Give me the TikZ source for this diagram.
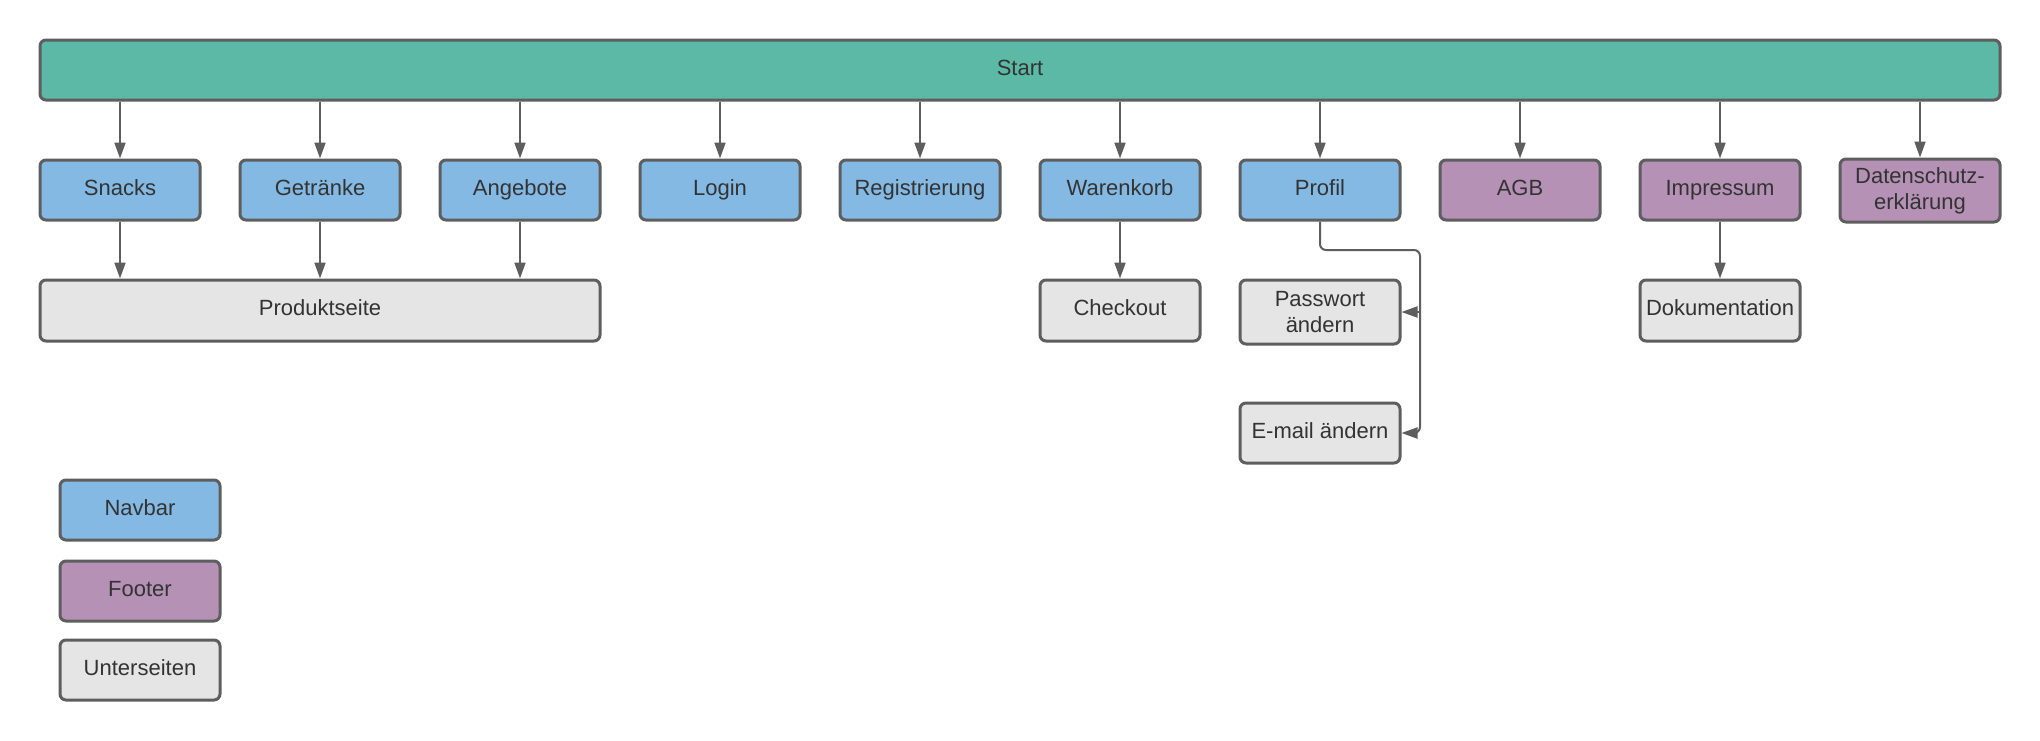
\documentclass[tikz,border=0pt]{standalone}
\usepackage{fontspec}
\setmainfont{Liberation Sans}
\usetikzlibrary{arrows.meta}
\definecolor{startc}{HTML}{5BB9A6}
\definecolor{navc}{HTML}{83B9E3}
\definecolor{footc}{HTML}{B491B5}
\definecolor{subc}{HTML}{E5E5E5}
\definecolor{linec}{HTML}{5E5E5E}
\definecolor{txtc}{HTML}{333333}
\begin{document}
\begin{tikzpicture}[x=0.5pt,y=-0.5pt,
  box/.style={draw=linec, line width=1.5pt, rounded corners=3pt,
    minimum width=80pt, minimum height=30pt, inner sep=0pt,
    text=txtc, font=\fontsize{11}{13}\selectfont},
  one/.style={text height=8pt, text depth=3pt},
  two/.style={align=center},
  startbox/.style={box, one, fill=startc, minimum width=980pt},
  nav/.style={box, fill=navc},
  foot/.style={box, fill=footc},
  sub/.style={box, fill=subc},
  arr/.style={draw=linec, line width=1pt, -{Triangle[length=8pt,width=5.5pt]}}
]
\useasboundingbox (0,0) rectangle (2040,740);
\node[startbox] (start) at (1020,70) {Start};
\node[nav, one] (snacks) at (120,190) {Snacks};
\node[nav, one] (getraenke) at (320,190) {Getränke};
\node[nav, one] (angebote) at (520,190) {Angebote};
\node[nav, one] (login) at (720,190) {Login};
\node[nav, one] (registrierung) at (920,190) {Registrierung};
\node[nav, one] (warenkorb) at (1120,190) {Warenkorb};
\node[nav, one] (profil) at (1320,190) {Profil};
\node[foot, one] (agb) at (1520,190) {AGB};
\node[foot, one] (impressum) at (1720,190) {Impressum};
\node[foot, two, minimum height=31.5pt] (datenschutz) at (1920,190.5) {Datenschutz-\\erklärung};

\node[sub, one, minimum width=280pt, minimum height=30.5pt] (produkt) at (320,310.5) {Produktseite};
\node[sub, one, minimum height=30.5pt] (checkout) at (1120,310.5) {Checkout};
\node[sub, two, minimum height=32pt] (passwort) at (1320,312) {Passwort\\ändern};
\node[sub, one, minimum height=30.5pt] (doku) at (1720,310.5) {Dokumentation};
\node[sub, one] (email) at (1320,433) {E-mail ändern};

\node[nav, one] (lnav) at (140,510) {Navbar};
\node[foot, one] (lfoot) at (140,591) {Footer};
\node[sub, one] (lsub) at (140,670) {Unterseiten};

\foreach \n in {snacks,getraenke,angebote,login,registrierung,warenkorb,profil,agb,impressum,datenschutz}
  \draw[arr] (start.south -| \n.north) -- (\n.north);
\foreach \n in {snacks,getraenke,angebote}
  \draw[arr] (\n.south) -- (produkt.north -| \n.south);
\draw[arr] (warenkorb.south) -- (checkout.north);
\draw[arr] (impressum.south) -- (doku.north);

\coordinate (pbend) at (1420,250);
\draw[arr, rounded corners=3pt] (profil.south) |- (pbend) |- (email.east);
\draw[arr] (passwort.east -| pbend) -- (passwort.east);
\end{tikzpicture}
\end{document}
